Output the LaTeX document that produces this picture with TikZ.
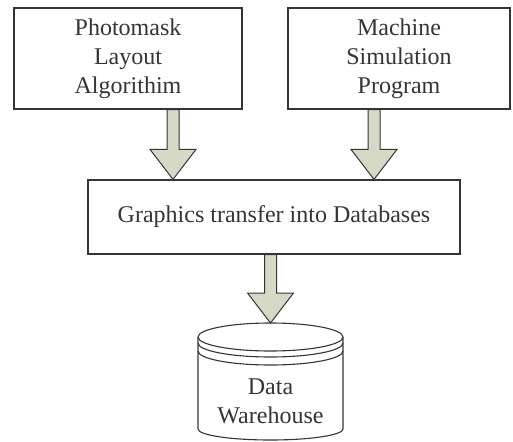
\documentclass[tikz,border=0pt]{standalone}
\usepackage{fontspec}
\setmainfont{Liberation Serif}
\usepackage{tikz}
\usepackage{xcolor}
\usetikzlibrary{calc}
\definecolor{cInk}{HTML}{353535}
\definecolor{cShaft}{HTML}{D6D9C6}
\tikzset{
  box/.style  ={draw=cInk,line width=1.2pt,fill=white,align=center,
                text=cInk,inner sep=0pt,font=\fontsize{24}{29}\selectfont},
  lbl/.style  ={align=center,text=cInk,font=\fontsize{24}{29}\selectfont},
  can/.style  ={draw=cInk,line width=1.1pt},
  % block arrow, start = tail, target = tip
  fat/.style  ={draw=cInk,fill=cShaft,line width=1pt,line join=miter,
                to path={let \p1=(\tikztostart), \p2=(\tikztotarget) in
                  (\x1-6pt,\y1) -- (\x1-6pt,\y2+30pt) -- (\x1-23pt,\y2+30pt)
                  -- (\x1,\y2) -- (\x1+23pt,\y2+30pt) -- (\x1+6pt,\y2+30pt)
                  -- (\x1+6pt,\y1) -- cycle}},
}
\begin{document}
\begin{tikzpicture}[x=1pt,y=1pt]
\useasboundingbox (0,0) rectangle (513,-441);

\node[box,minimum width=228pt,minimum height=101pt] (pml) at (128,-58.5)
  {Photomask\\Layout\\Algorithim};
\node[box,minimum width=222pt,minimum height=101pt] (msp) at (399,-58.5)
  {Machine\\Simulation\\Program};
\node[box,minimum width=372pt,minimum height=74pt] (gtd) at (274,-217)
  {Graphics transfer into Databases};

% data warehouse drum
\coordinate (dwtop) at (270.5,-323);
\draw[can,fill=white] (198,-337) -- (198,-429) arc[start angle=180,end angle=360,x radius=72.5,y radius=11]
  -- (343,-337);
\draw[can] (270.5,-337) ellipse[x radius=72.5,y radius=14];
\draw[can] (198,-343) arc[start angle=180,end angle=360,x radius=72.5,y radius=14];
\draw[can] (198,-351) arc[start angle=180,end angle=360,x radius=72.5,y radius=14];
\node[lbl] (dw) at (270.5,-401) {Data\\Warehouse};

\coordinate (a1) at ($(gtd.north)+(-101,0)$);
\coordinate (a2) at ($(gtd.north)+(100,0)$);

\draw[fat] (pml.south -| a1) to (a1);
\draw[fat] (msp.south -| a2) to (a2);
\draw[fat] (gtd.south -| dwtop) to (dwtop);
\end{tikzpicture}
\end{document}
